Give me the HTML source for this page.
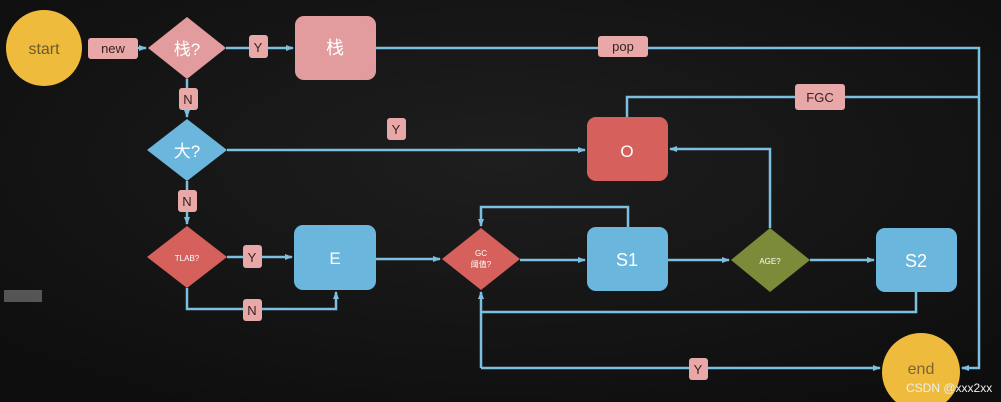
<!DOCTYPE html>
<html><head><meta charset="utf-8"><style>
html,body{margin:0;padding:0;background:#131313;}
svg{display:block}
text{font-family:"Liberation Sans","Noto Sans CJK SC",sans-serif;}
</style></head><body>
<svg width="1001" height="402" viewBox="0 0 1001 402" xmlns="http://www.w3.org/2000/svg">
<defs>
<marker id="a" markerWidth="8" markerHeight="8" refX="7" refY="4" orient="auto" markerUnits="userSpaceOnUse"><path d="M0,1 L8,4 L0,7 Z" fill="#7cbfe0"/></marker>
<radialGradient id="bg" cx="50%" cy="40%" r="70%"><stop offset="0" stop-color="#1e1e1e"/><stop offset="1" stop-color="#0e0e0e"/></radialGradient>
</defs>
<rect width="1001" height="402" fill="url(#bg)"/>
<g stroke="#7cbfe0" stroke-width="2.5" fill="none">
<line x1="138" y1="48" x2="146" y2="48" marker-end="url(#a)"/>
<line x1="226" y1="48" x2="293" y2="48" marker-end="url(#a)"/>
<polyline points="376,48 979,48 979,368 962,368" marker-end="url(#a)"/>
<polyline points="627,117 627,97 979,97"/>
<line x1="187" y1="79" x2="187" y2="117" marker-end="url(#a)"/>
<line x1="227" y1="150" x2="585" y2="150" marker-end="url(#a)"/>
<line x1="187" y1="181" x2="187" y2="224" marker-end="url(#a)"/>
<line x1="227" y1="257" x2="292" y2="257" marker-end="url(#a)"/>
<polyline points="187,288 187,309 336,309 336,292" marker-end="url(#a)"/>
<line x1="376" y1="259" x2="440" y2="259" marker-end="url(#a)"/>
<polyline points="628,227 628,207 481,207 481,226" marker-end="url(#a)"/>
<line x1="520" y1="260" x2="585" y2="260" marker-end="url(#a)"/>
<line x1="668" y1="260" x2="729" y2="260" marker-end="url(#a)"/>
<polyline points="770,228 770,149 670,149" marker-end="url(#a)"/>
<line x1="810" y1="260" x2="874" y2="260" marker-end="url(#a)"/>
<polyline points="916,292 916,312 481,312"/>
<polyline points="481,368 481,292" marker-end="url(#a)"/>
<line x1="481" y1="368" x2="880" y2="368" marker-end="url(#a)"/>
</g>
<circle cx="44" cy="48" r="38" fill="#efbb3c"/>
<text x="44" y="54" font-size="16" fill="#6b5a2a" text-anchor="middle">start</text>
<circle cx="921" cy="372" r="39" fill="#efbb3c"/>
<text x="921" y="374" font-size="16" fill="#7a6530" text-anchor="middle">end</text>
<polygon points="148,48 187,17 226,48 187,79" fill="#e39c9d"/>
<text x="187" y="55" font-size="17" fill="#fff" text-anchor="middle">栈?</text>
<rect x="295" y="16" width="81" height="64" rx="9" fill="#e39c9d"/>
<text x="335" y="54" font-size="18" fill="#fff" text-anchor="middle">栈</text>
<polygon points="147,150 187,119 227,150 187,181" fill="#6bb6dc"/>
<text x="187" y="157" font-size="17" fill="#fff" text-anchor="middle">大?</text>
<rect x="587" y="117" width="81" height="64" rx="9" fill="#d6605b"/>
<text x="627" y="157" font-size="17" fill="#fff" text-anchor="middle">O</text>
<polygon points="147,257 187,226 227,257 187,288" fill="#d6605b"/>
<text x="187" y="261" font-size="8" fill="#fff" text-anchor="middle">TLAB?</text>
<rect x="294" y="225" width="82" height="65" rx="9" fill="#6bb6dc"/>
<text x="335" y="264" font-size="17" fill="#fff" text-anchor="middle">E</text>
<polygon points="442,259 481,228 520,259 481,290" fill="#d6605b"/>
<text x="481" y="256" font-size="8" fill="#fff" text-anchor="middle">GC</text>
<text x="481" y="267" font-size="8" fill="#fff" text-anchor="middle">阈值?</text>
<rect x="587" y="227" width="81" height="64" rx="9" fill="#6bb6dc"/>
<text x="627" y="266" font-size="18" fill="#fff" text-anchor="middle">S1</text>
<polygon points="731,260 770,228 810,260 770,292" fill="#7b8b3a"/>
<text x="770" y="264" font-size="8" fill="#fff" text-anchor="middle">AGE?</text>
<rect x="876" y="228" width="81" height="64" rx="9" fill="#6bb6dc"/>
<text x="916" y="267" font-size="18" fill="#fff" text-anchor="middle">S2</text>
<g font-size="13" fill="#3a2020" text-anchor="middle">
<rect x="88" y="38" width="50" height="21" rx="3" fill="#e8a8a8"/><text x="113" y="53">new</text>
<rect x="249" y="35" width="19" height="23" rx="3" fill="#e8a8a8"/><text x="258" y="52">Y</text>
<rect x="598" y="36" width="50" height="21" rx="3" fill="#e8a8a8"/><text x="623" y="51">pop</text>
<rect x="795" y="84" width="50" height="26" rx="3" fill="#e8a8a8"/><text x="820" y="102">FGC</text>
<rect x="179" y="88" width="19" height="22" rx="3" fill="#e8a8a8"/><text x="188" y="104">N</text>
<rect x="387" y="118" width="19" height="22" rx="3" fill="#e8a8a8"/><text x="396" y="134">Y</text>
<rect x="178" y="190" width="19" height="22" rx="3" fill="#e8a8a8"/><text x="187" y="206">N</text>
<rect x="243" y="245" width="19" height="23" rx="3" fill="#e8a8a8"/><text x="252" y="262">Y</text>
<rect x="243" y="299" width="19" height="22" rx="3" fill="#e8a8a8"/><text x="252" y="315">N</text>
<rect x="689" y="358" width="19" height="22" rx="3" fill="#e8a8a8"/><text x="698" y="374">Y</text>
</g>
<rect x="4" y="290" width="38" height="12" fill="#555"/>
<text x="906" y="392" font-size="12" fill="#eee">CSDN @xxx2xx</text>
</svg>
</body></html>
